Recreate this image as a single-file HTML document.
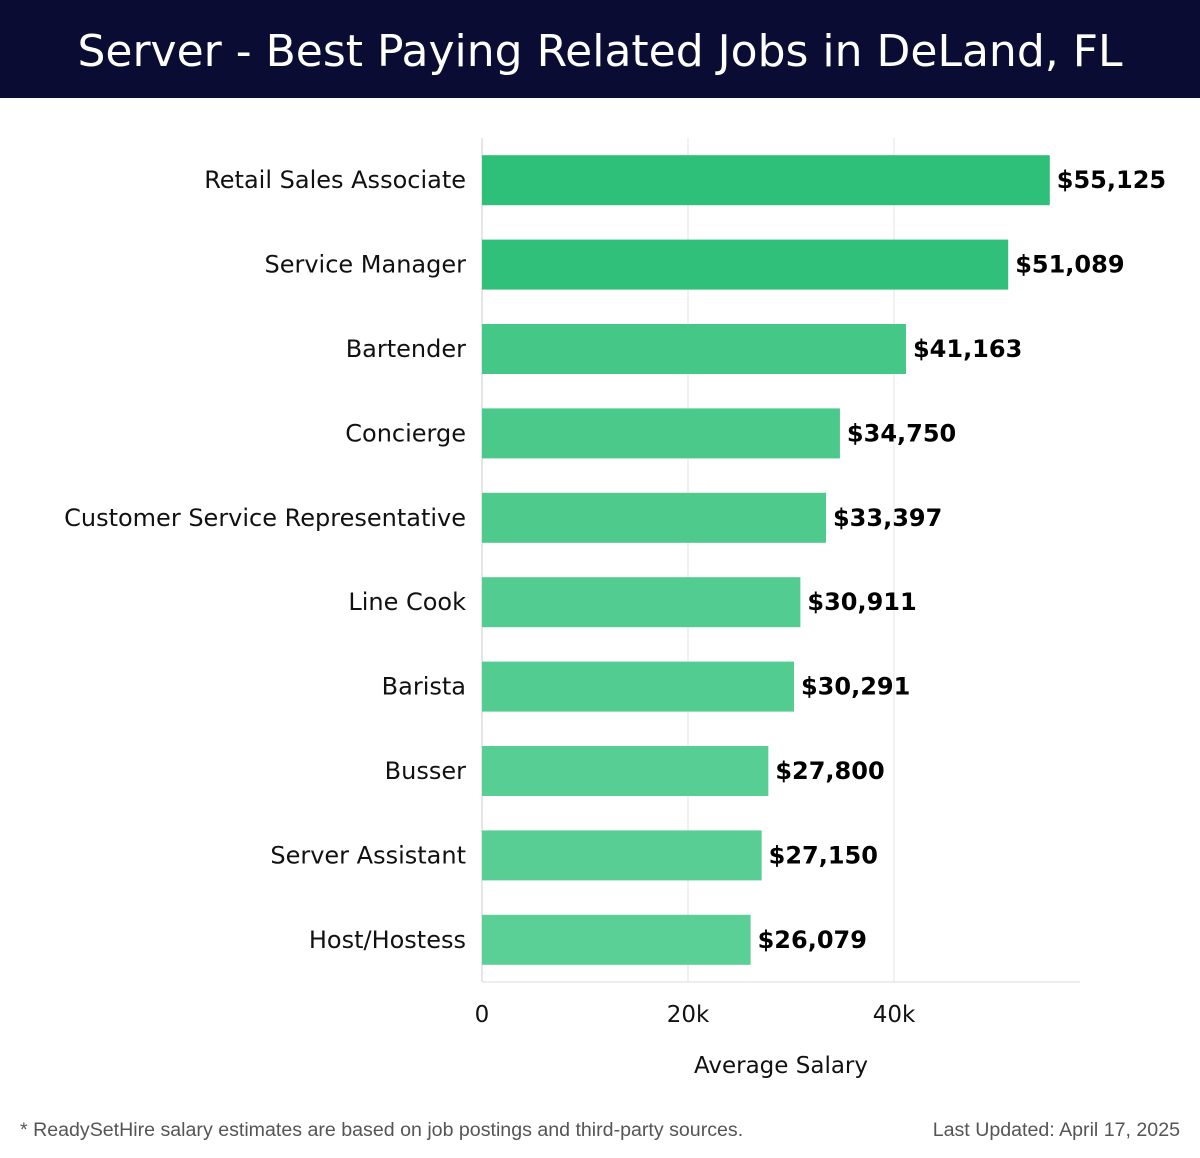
<!DOCTYPE html>
<html><head><meta charset="utf-8"><style>
body{margin:0;width:1200px;height:1158px;background:#fff;font-family:"DejaVu Sans",sans-serif;position:relative;overflow:hidden}
#hdr{position:absolute;left:0;top:0;width:1200px;height:98px;background:#0b0c33;color:#fff;font-size:44px;text-align:center;line-height:104px}
.foot{position:absolute;top:1119px;font-size:19.6px;color:#555;font-family:"Liberation Sans",sans-serif}
</style></head><body>
<div id="hdr">Server - Best Paying Related Jobs in DeLand, FL</div>
<svg id="chart" width="1200" height="1100" style="position:absolute;left:0;top:0"></svg>
<div class="foot" style="left:20px">* ReadySetHire salary estimates are based on job postings and third-party sources.</div>
<div class="foot" style="right:20px">Last Updated: April 17, 2025</div>
<script>
const categories=["Retail Sales Associate","Service Manager","Bartender","Concierge","Customer Service Representative","Line Cook","Barista","Busser","Server Assistant","Host/Hostess"];
const values=[55125,51089,41163,34750,33397,30911,30291,27800,27150,26079];
const valueLabels=["$55,125","$51,089","$41,163","$34,750","$33,397","$30,911","$30,291","$27,800","$27,150","$26,079"];
const ticks=[0,20000,40000];
const tickLabels=["0","20k","40k"];
const colors=["#2ebf78","#30c07a","#45c787","#4bc98b","#4dca8c","#52cc90","#53cc91","#57ce94","#58ce95","#5acf96"];
const svg=document.getElementById('chart');const NS='http://www.w3.org/2000/svg';
const x0=482,pxPer=206/20000,top0=138,band=84.4;
const xs=v=>x0+v*pxPer;const yc=i=>top0+band*(i+0.5);
function mk(t,a,txt){const e=document.createElementNS(NS,t);for(const k in a)e.setAttribute(k,a[k]);if(txt!=null)e.textContent=txt;svg.appendChild(e);return e;}
ticks.forEach((t,i)=>{
 const g=mk('line',{x1:xs(t),x2:xs(t),y1:138,y2:982,stroke:i?'#e3e3e3':'#ccc','stroke-width':1});
 
 
 const l=mk('text',{x:xs(t),y:1022,'text-anchor':'middle','font-size':23,fill:'#111'},tickLabels[i]);
 
 
});
const ax=mk('line',{x1:482,x2:1080,y1:982,y2:982,stroke:'#ddd'});


categories.forEach((c,i)=>{
 const y=yc(i);
 const r=mk('rect',{x:x0,y:y-25,width:xs(values[i])-x0,height:50,fill:colors[i]});
 
 
 const l=mk('text',{x:466,y:y+8,'text-anchor':'end','font-size':24,fill:'#111'},c);
 
 
 const v=mk('text',{x:xs(values[i])+7,y:y+8,'font-size':24,'font-weight':'bold',fill:'#000'},valueLabels[i]);
 
 
});
const at=mk('text',{x:781,y:1073,'text-anchor':'middle','font-size':23,fill:'#111'},'Average Salary');


</script>
</body></html>
